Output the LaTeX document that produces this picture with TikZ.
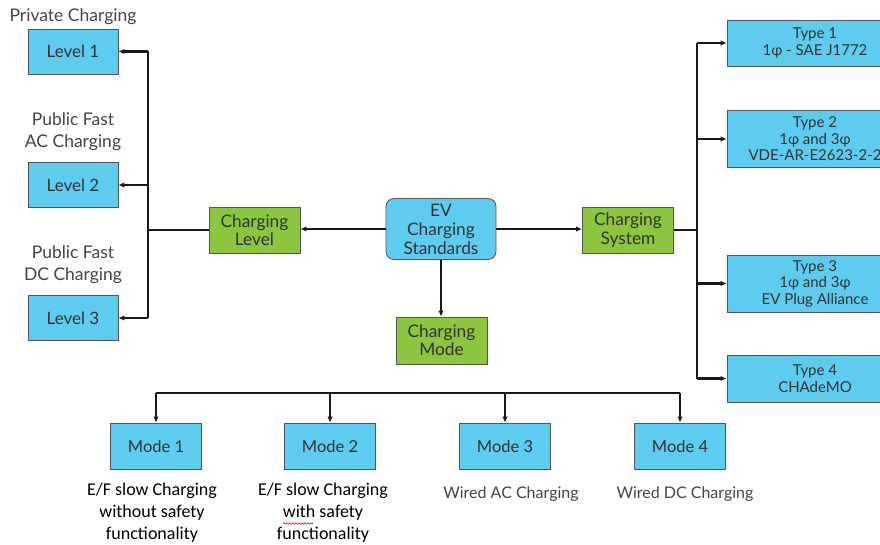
\documentclass[tikz,border=0pt]{standalone}
\usepackage{fontspec}
\setmainfont{Lato}
\newfontfamily\calib{Carlito}
\usetikzlibrary{arrows.meta,decorations.pathmorphing}
\definecolor{cyanbox}{HTML}{5ECCEF}
\definecolor{greenbox}{HTML}{8CC63E}
\definecolor{boxline}{HTML}{555555}
\definecolor{txt}{HTML}{333333}
\definecolor{lbl}{HTML}{444444}
\begin{document}
\begin{tikzpicture}[x=1pt,y=-1pt,
  box/.style={draw=boxline, line width=0.8pt, fill=#1, align=center, inner sep=0pt,
    font=\fontsize{17}{18.5}\selectfont, text=txt},
  lvlbox/.style={box=cyanbox, minimum width=90pt, minimum height=45pt},
  gbox/.style={box=greenbox, minimum width=91pt, minimum height=46pt, font=\fontsize{17.3}{18.3}\selectfont},
  typebox/.style={box=cyanbox, minimum width=176pt, font=\fontsize{15}{16.5}\selectfont},
  modebox/.style={box=cyanbox, minimum width=91pt, minimum height=46pt, font=\fontsize{16.5}{18}\selectfont},
  toplbl/.style={align=center, text=lbl, font=\fontsize{17.5}{22}\selectfont, inner sep=0pt},
  wirelbl/.style={align=center, text=lbl, font=\fontsize{16}{22}\selectfont, inner sep=0pt},
  botlbl/.style={align=center, text=black, font=\calib\fontsize{18}{22}\selectfont, inner sep=0pt},
  ln/.style={line width=2.2pt, black!90},
  arr/.style={ln, -{Latex[length=6pt,width=5.5pt]}}
]
\useasboundingbox (0,0) rectangle (880,545);

% left column
\node[toplbl] (pc) at (73,17) {Private Charging};
\node[lvlbox] (l1) at (73,51.5) {Level 1};
\node[toplbl] (pac) at (73,132) {Public Fast\\AC Charging};
\node[lvlbox] (l2) at (73,185) {Level 2};
\node[toplbl] (pdc) at (73,265) {Public Fast\\DC Charging};
\node[lvlbox] (l3) at (73,318) {Level 3};

% centre
\node[gbox] (cl) at (254.5,230) {Charging\\Level};
\node[box=cyanbox, minimum width=110pt, minimum height=61pt, rounded corners=8pt,
      font=\fontsize{17.3}{19}\selectfont] (ev) at (441,229) {EV\\Charging\\Standards};
\node[gbox, minimum height=47pt] (cm) at (441.5,340.5) {Charging\\Mode};
\node[gbox] (cs) at (628,230) {Charging\\System};

% types
\node[typebox, minimum height=46pt] (t1) at (815,43) {Type 1\\1φ - SAE J1772};
\node[typebox, minimum height=57pt] (t2) at (815,139) {Type 2\\1φ and 3φ\\VDE-AR-E2623-2-2};
\node[typebox, minimum height=57pt] (t3) at (815,283.5) {Type 3\\1φ and 3φ\\EV Plug Alliance};
\node[typebox, minimum height=47pt] (t4) at (815,378.5) {Type 4\\CHAdeMO};

% modes
\node[modebox] (m1) at (156,446) {Mode 1};
\node[modebox] (m2) at (330,446) {Mode 2};
\node[modebox] (m3) at (505,446) {Mode 3};
\node[modebox] (m4) at (680,446) {Mode 4};

\node[botlbl] (d1) at (152,513) {E/F slow Charging\\without safety\\functionality};
\node[botlbl] (d2) at (323,513) {E/F slow Charging\\with safety\\functionality};
\node[wirelbl] (d3) at (511,494) {Wired AC Charging};
\node[wirelbl] (d4) at (685,494) {Wired DC Charging};
\draw[red, line width=0.6pt, decorate, decoration={snake, segment length=3pt, amplitude=0.8pt}]
  (283,523.5) -- (313,523.5);

% connectors: left
\coordinate (lb) at (148,231);
\draw[arr] (ev.west) -- (ev.west -| cl.east);
\draw[ln] (cl.west) -- (cl.west -| lb);
\draw[ln] (lb |- l1) -- (lb |- l3);
\draw[arr] (lb |- l1) -- (l1.east);
\draw[arr] (lb |- l2) -- (l2.east);
\draw[arr] (lb |- l3) -- (l3.east);

% down
\draw[arr] (ev.south) -- (ev.south |- cm.north);

% right
\coordinate (rb) at (697,230);
\draw[arr] (ev.east) -- (ev.east -| cs.west);
\draw[ln] (cs.east) -- (cs.east -| rb);
\draw[ln] (rb |- t1) -- (rb |- t4);
\draw[arr] (rb |- t1) -- (t1.west);
\draw[arr] (rb |- t2) -- (t2.west);
\draw[arr] (rb |- t3) -- (t3.west);
\draw[arr] (rb |- t4) -- (t4.west);

% mode bus
\coordinate (mb) at (400,393);
\draw[ln] (m1 |- mb) -- (m4 |- mb);
\draw[arr] (m1 |- mb) -- (m1.north);
\draw[arr] (m2 |- mb) -- (m2.north);
\draw[arr] (m3 |- mb) -- (m3.north);
\draw[arr] (m4 |- mb) -- (m4.north);
\end{tikzpicture}
\end{document}
